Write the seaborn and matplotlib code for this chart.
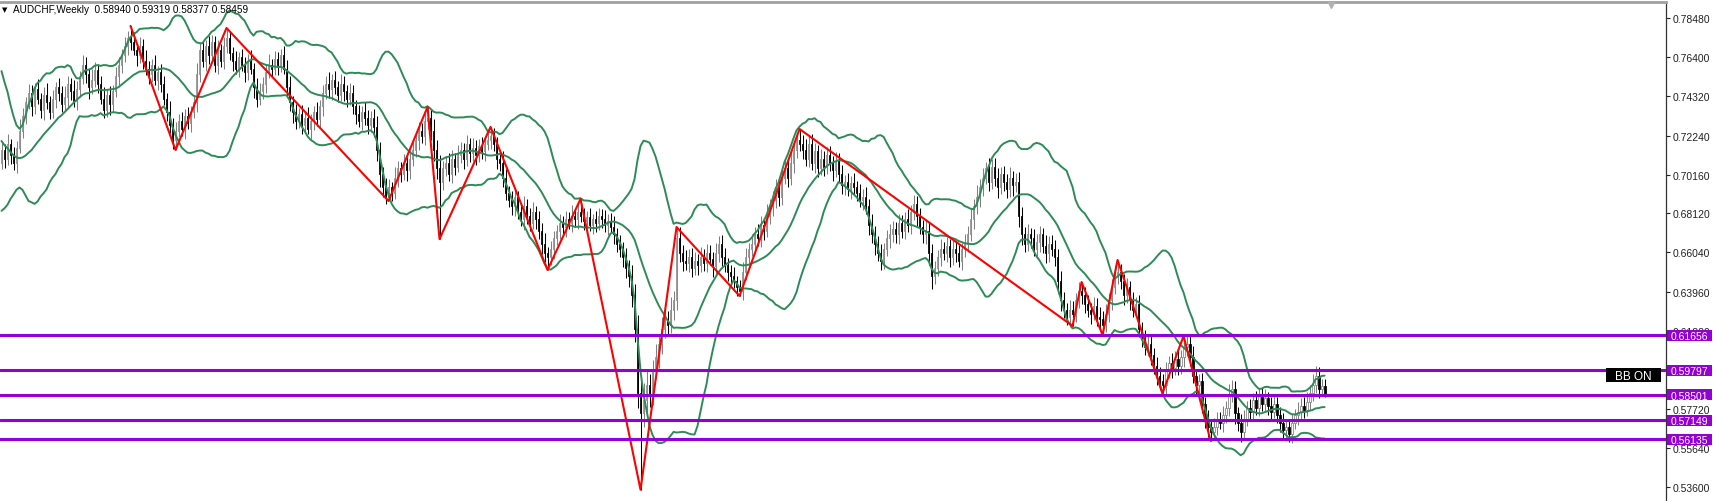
import numpy as np
import pandas as pd
import matplotlib
matplotlib.use("Agg")
import matplotlib.pyplot as plt
import seaborn as sns
from matplotlib import transforms
from matplotlib.patches import Rectangle

# ---------------- data (prices in pips = price * 10000) ----------------
symbol = "AUDCHF,Weekly"

# closes of the 19 weeks before the first visible bar (only feed the bands)
warmup_close = [7550, 7500, 7520, 7440, 7380, 7320, 7260, 7200, 7150, 7100,
                7050, 7000, 6980, 7020, 7050, 7000, 7060, 7100, 7080]

close_pips = [
    7150, 7100, 7180, 7120, 7080, 7160, 7250, 7330, 7400, 7450,   # 0-9
    7380, 7470, 7420, 7360, 7440, 7400, 7350, 7420, 7480, 7450,   # 10-19
    7390, 7430, 7500, 7460, 7410, 7470, 7530, 7600, 7550, 7480,   # 20-29
    7520, 7570, 7500, 7420, 7360, 7440, 7390, 7460, 7540, 7600,   # 30-39
    7650, 7700, 7740, 7720, 7680, 7650, 7700, 7620, 7580, 7550,   # 40-49
    7600, 7520, 7560, 7500, 7420, 7350, 7280, 7200, 7250, 7300,   # 50-59
    7260, 7330, 7290, 7350, 7400, 7550, 7680, 7620, 7700, 7650,   # 60-69
    7720, 7600, 7680, 7620, 7700, 7740, 7660, 7620, 7580, 7640,   # 70-79
    7600, 7560, 7620, 7580, 7480, 7420, 7460, 7500, 7560, 7600,   # 80-89
    7580, 7630, 7600, 7650, 7580, 7480, 7400, 7350, 7300, 7340,   # 90-99
    7280, 7320, 7260, 7300, 7350, 7310, 7380, 7450, 7500, 7470,   # 100-109
    7520, 7480, 7440, 7500, 7460, 7420, 7450, 7380, 7340, 7300,   # 110-119
    7350, 7320, 7280, 7320, 7270, 7150, 7020, 6950, 6900, 6950,   # 120-129
    6920, 7000, 7050, 7020, 7080, 7040, 7100, 7150, 7200, 7250,   # 130-139
    7220, 7300, 7320, 7250, 7150, 7050, 6980, 7050, 7080, 7020,   # 140-149
    7100, 7060, 7120, 7150, 7100, 7180, 7130, 7160, 7120, 7170,   # 150-159
    7140, 7180, 7200, 7220, 7180, 7100, 7080, 7000, 6920, 6880,   # 160-169
    6850, 6900, 6820, 6780, 6850, 6800, 6760, 6820, 6780, 6720,   # 170-179
    6650, 6600, 6580, 6620, 6680, 6720, 6760, 6740, 6780, 6760,   # 180-189
    6800, 6780, 6820, 6800, 6770, 6790, 6750, 6780, 6760, 6800,   # 190-199
    6780, 6750, 6770, 6740, 6700, 6650, 6620, 6580, 6520, 6480,   # 200-209
    6380, 6200, 5860, 5750, 5820, 5900, 5850, 5980, 6050, 6120,   # 210-219
    6200, 6250, 6220, 6300, 6350, 6680, 6600, 6560, 6550, 6580,   # 220-229
    6520, 6560, 6540, 6580, 6550, 6600, 6570, 6530, 6600, 6650,   # 230-239
    6580, 6540, 6500, 6480, 6450, 6420, 6400, 6500, 6580, 6620,   # 240-249
    6650, 6700, 6680, 6750, 6720, 6800, 6850, 6880, 6950, 6900,   # 250-259
    7000, 7050, 7000, 7080, 7150, 7200, 7180, 7150, 7100, 7180,   # 260-269
    7080, 7140, 7050, 7100, 7060, 7120, 7080, 7040, 7090, 7020,   # 270-279
    6960, 6980, 6940, 6970, 6950, 6920, 6880, 6900, 6850, 6750,   # 280-289
    6700, 6650, 6600, 6560, 6620, 6680, 6700, 6730, 6700, 6760,   # 290-299
    6720, 6780, 6750, 6820, 6860, 6800, 6740, 6700, 6720, 6600,   # 300-309
    6480, 6520, 6580, 6620, 6600, 6640, 6580, 6620, 6600, 6560,   # 310-319
    6620, 6650, 6700, 6780, 6850, 6900, 6950, 7000, 7050, 6980,   # 320-329
    7060, 7000, 6950, 7020, 6980, 6940, 7000, 6960, 6980, 6800,   # 330-339
    6700, 6650, 6700, 6680, 6620, 6660, 6700, 6640, 6600, 6650,   # 340-349
    6620, 6580, 6450, 6350, 6300, 6260, 6300, 6280, 6350, 6400,   # 350-359
    6380, 6330, 6300, 6280, 6320, 6260, 6250, 6220, 6280, 6350,   # 360-369
    6420, 6480, 6500, 6450, 6380, 6420, 6350, 6300, 6330, 6200,   # 370-379
    6150, 6100, 6120, 6060, 6000, 5950, 5920, 5900, 5980, 6020,   # 380-389
    5990, 6040, 6000, 6050, 6100, 6120, 6050, 5950, 5900, 5920,   # 390-399
    5800, 5720, 5680, 5650, 5680, 5720, 5700, 5740, 5780, 5850,   # 400-409
    5880, 5750, 5700, 5650, 5720, 5780, 5760, 5820, 5780, 5850,   # 410-419
    5800, 5830, 5790, 5760, 5800, 5740, 5700, 5660, 5680, 5640,   # 420-429
    5700, 5740, 5760, 5790, 5770, 5810, 5860, 5900, 5950, 5880,   # 430-439
    5894.0, 5845.9,                                               # 440-441
]

upper_wick = [
    40, 30, 55, 25, 45, 35, 60, 40, 30, 50, 45, 35, 55, 30, 40, 65, 35, 45, 30, 50,
    35, 55, 40, 30, 60, 45, 35, 50, 40, 30, 55, 45, 35, 40, 60, 30, 45, 35, 50, 40,
    35, 45, 40, 50, 55, 30, 45, 35, 60, 40, 30, 50, 35, 45, 40, 30, 55, 35, 45, 40,
    50, 35, 45, 30, 40, 60, 35, 45, 30, 55, 40, 35, 50, 30, 45, 50, 40, 35, 55, 30,
    45, 40, 35, 60, 30, 50, 45, 35, 40, 55, 30, 45, 40, 35, 50, 45, 60, 35, 40, 30,
    45, 35, 55, 40, 30, 50, 35, 45, 40, 60, 30, 45, 35, 50, 40, 30, 55, 40, 35, 45,
    30, 50, 40, 35, 45, 60, 40, 35, 50, 45, 30, 55, 40, 35, 45, 30, 50, 40, 35, 45,
    40, 55, 50, 45, 60, 50, 70, 40, 35, 50, 45, 30, 55, 40, 35, 45, 30, 50, 40, 35,
    45, 40, 55, 50, 45, 35, 40, 60, 45, 35, 50, 40, 30, 45, 55, 35, 40, 50, 30, 45,
    40, 55, 35, 45, 40, 30, 50, 35, 45, 40, 55, 30, 45, 50, 40, 35, 50, 30, 45, 40,
    35, 50, 40, 45, 55, 35, 45, 40, 50, 45, 60, 55, 70, 80, 90, 75, 60, 55, 70, 50,
    60, 55, 45, 65, 50, 50, 60, 45, 55, 40, 50, 45, 35, 55, 40, 50, 45, 35, 55, 40,
    45, 50, 35, 40, 45, 30, 40, 55, 45, 35, 50, 40, 55, 45, 35, 60, 40, 50, 45, 55,
    40, 50, 45, 55, 40, 35, 50, 45, 55, 40, 50, 45, 35, 55, 40, 45, 50, 35, 45, 40,
    50, 35, 45, 40, 55, 35, 45, 40, 50, 35, 60, 45, 40, 50, 35, 45, 55, 40, 35, 50,
    45, 40, 55, 35, 50, 45, 40, 35, 60, 45, 50, 40, 35, 55, 40, 45, 35, 50, 40, 45,
    35, 50, 45, 55, 40, 60, 45, 50, 35, 55, 40, 45, 50, 35, 45, 40, 55, 35, 45, 50,
    45, 40, 55, 35, 50, 40, 45, 35, 55, 40, 45, 50, 40, 55, 45, 35, 50, 45, 40, 45,
    50, 40, 50, 35, 45, 40, 55, 45, 50, 40, 45, 55, 50, 45, 40, 50, 35, 45, 40, 50,
    35, 45, 50, 40, 35, 50, 45, 40, 45, 35, 50, 40, 45, 35, 50, 40, 45, 55, 35, 40,
    45, 35, 50, 40, 45, 35, 40, 50, 35, 55, 45, 40, 35, 45, 50, 35, 45, 40, 50, 35,
    40, 50, 35, 45, 40, 35, 45, 50, 35, 40, 45, 35, 50, 40, 45, 55, 40, 60, 50, 45,
    40, 37.9,
]

lower_wick = [
    35, 50, 30, 45, 40, 55, 30, 40, 45, 35, 50, 40, 30, 45, 55, 35, 40, 30, 50, 45,
    40, 30, 55, 45, 35, 50, 40, 30, 45, 60, 35, 40, 50, 30, 45, 35, 55, 40, 30, 45,
    45, 35, 50, 40, 30, 55, 40, 45, 35, 50, 40, 30, 55, 45, 35, 50, 40, 45, 50, 35,
    40, 55, 30, 45, 35, 50, 40, 30, 55, 45, 35, 40, 50, 30, 45, 40, 35, 55, 30, 45,
    35, 50, 40, 30, 55, 45, 35, 40, 50, 30, 45, 35, 55, 40, 30, 50, 45, 60, 40, 35,
    50, 40, 30, 55, 45, 35, 40, 50, 30, 45, 55, 35, 40, 30, 50, 45, 35, 40, 55, 30,
    45, 40, 50, 35, 55, 60, 70, 50, 40, 50, 45, 35, 50, 40, 30, 55, 45, 35, 40, 50,
    35, 45, 40, 50, 60, 55, 50, 45, 40, 35, 50, 45, 30, 40, 55, 35, 45, 40, 50, 35,
    40, 50, 35, 45, 40, 55, 45, 50, 40, 35, 45, 50, 40, 35, 55, 45, 40, 30, 50, 45,
    55, 45, 50, 40, 50, 35, 45, 40, 55, 30, 45, 40, 50, 35, 45, 40, 30, 50, 45, 35,
    45, 40, 55, 35, 50, 45, 40, 55, 50, 60, 65, 70, 80, 90, 70, 60, 65, 55, 50, 60,
    55, 50, 60, 45, 55, 50, 45, 55, 40, 50, 45, 35, 55, 40, 45, 50, 35, 55, 40, 45,
    50, 40, 45, 55, 35, 45, 50, 50, 40, 45, 35, 55, 40, 45, 50, 35, 45, 55, 40, 50,
    45, 35, 50, 40, 55, 45, 40, 50, 35, 45, 40, 55, 45, 35, 50, 40, 45, 55, 35, 40,
    45, 50, 35, 55, 40, 45, 35, 50, 40, 55, 45, 60, 40, 50, 45, 35, 55, 40, 45, 50,
    40, 45, 35, 50, 45, 55, 40, 45, 50, 60, 70, 45, 40, 50, 35, 45, 55, 40, 45, 35,
    50, 40, 45, 35, 50, 40, 55, 45, 35, 50, 40, 45, 55, 35, 50, 45, 40, 55, 35, 60,
    55, 45, 40, 50, 35, 45, 55, 40, 50, 45, 35, 50, 60, 55, 45, 40, 50, 50, 45, 40,
    50, 45, 40, 55, 35, 45, 50, 50, 40, 45, 50, 35, 45, 40, 55, 45, 50, 40, 35, 45,
    50, 40, 45, 55, 40, 50, 45, 50, 45, 40, 50, 35, 45, 40, 55, 45, 50, 40, 45, 35,
    50, 45, 55, 50, 40, 45, 35, 50, 40, 45, 40, 55, 45, 50, 40, 35, 45, 50, 40, 45,
    35, 40, 50, 45, 35, 40, 50, 45, 55, 40, 45, 35, 50, 40, 45, 35, 40, 45, 40, 50,
    35, 8.2,
]

# ZigZag turning points (bar index, price)
zz_bar = [43, 58, 75, 129, 142, 146, 163, 182, 193, 213, 225, 246, 266,
          357, 360, 367, 372, 387, 394, 403]
zz_price = [0.7806, 0.7148, 0.7795, 0.6877, 0.7376, 0.6675, 0.7270, 0.6511,
            0.6888, 0.5345, 0.6739, 0.6373, 0.7259, 0.6214, 0.6447, 0.6166,
            0.6564, 0.5858, 0.6161, 0.5604]

# horizontal levels
level_prices = [0.61656, 0.59797, 0.58501, 0.57149, 0.56135]

# price-scale labels
tick_prices = [0.78480, 0.76400, 0.74320, 0.72240, 0.70160, 0.68120, 0.66040,
               0.63960, 0.61880, 0.59800, 0.57720, 0.55640, 0.53600]

bb_period = 20
bb_dev = 2.0

# ---------------- build OHLC ----------------
n = len(close_pips)
assert len(upper_wick) == n and len(lower_wick) == n, (n, len(upper_wick), len(lower_wick))
closes = np.array(close_pips, dtype=float) / 1e4
opens = np.concatenate([[warmup_close[-1] / 1e4], closes[:-1]])
highs = np.maximum(opens, closes) + np.array(upper_wick, dtype=float) / 1e4
lows = np.minimum(opens, closes) - np.array(lower_wick, dtype=float) / 1e4
for b, p in zip(zz_bar, zz_price):
    if p > closes[b]:
        highs[b] = p
    else:
        lows[b] = p

allc = pd.Series(np.concatenate([np.array(warmup_close) / 1e4, closes]))
mid = allc.rolling(bb_period).mean().to_numpy()[-n:]
sd = allc.rolling(bb_period).std(ddof=0).to_numpy()[-n:]
upper = mid + bb_dev * sd
lower = mid - bb_dev * sd

# ---------------- figure ----------------
sns.set_theme(style="white")
plt.rcParams["font.family"] = ["Liberation Sans", "DejaVu Sans"]

W, H = 1716, 502
fig = plt.figure(figsize=(W / 100, H / 100), dpi=100)
fig.patch.set_facecolor("white")
ax = fig.add_axes([0, 0, 1666 / W, 1 - 3 / H])
ax.set_facecolor("white")

x = np.arange(n)
bull = closes >= opens
bull_col = "#808080"
ax.vlines(x[bull], lows[bull], highs[bull], color=bull_col, linewidth=0.75, zorder=3)
ax.vlines(x[~bull], lows[~bull], highs[~bull], color="black", linewidth=0.75, zorder=3)
ax.bar(x[bull], (closes - opens)[bull], bottom=opens[bull], width=0.62,
       color="white", edgecolor=bull_col, linewidth=0.55, zorder=4)
ax.bar(x[~bull], (opens - closes)[~bull], bottom=closes[~bull], width=0.62,
       color="black", edgecolor="black", linewidth=0.55, zorder=4)

band_color = "#2E8B57"
for series in (upper, mid, lower):
    sns.lineplot(x=x, y=series, color=band_color, linewidth=1.4, ax=ax, zorder=5)

sns.lineplot(x=zz_bar, y=zz_price, color="red", linewidth=1.5, ax=ax, zorder=6)

purple = "#9400D3"
for p in level_prices:
    ax.axhline(p, color=purple, linewidth=2.2, zorder=7)

ax.set_xlim(-0.5, 554.8)
ax.set_ylim(0.52851, 0.79329)

for s in ("left", "bottom"):
    ax.spines[s].set_visible(False)
ax.spines["top"].set_color("#a0a0a0")
ax.spines["top"].set_linewidth(2)
ax.spines["right"].set_color("#333333")
ax.spines["right"].set_linewidth(0.9)

ax.set_xticks([])
ax.yaxis.tick_right()
ax.set_yticks(tick_prices)
ax.set_yticklabels([f"{t:.5f}" for t in tick_prices])
ax.tick_params(axis="y", direction="out", length=3, width=0.8, pad=1.5,
               labelsize=7.5, colors="#222222")
ax.set_xlabel("")
ax.set_ylabel("")

# level labels on the price scale
blend = transforms.blended_transform_factory(fig.transFigure, ax.transData)
box_h = 11 / 1884.6
for p in level_prices:
    r = Rectangle((1667 / W, p - box_h / 2), 45 / W, box_h, transform=blend,
                  facecolor=purple, edgecolor="none", clip_on=False, zorder=10)
    ax.add_patch(r)
    ax.text((1667 + 1712) / 2 / W, p, f"{p:.5f}", transform=blend, ha="center",
            va="center_baseline", color="white", fontsize=7.5, zorder=11, clip_on=False)

# BB ON badge
badge = Rectangle((1606 / W, 1 - 383 / H), 55 / W, 14 / H, transform=fig.transFigure,
                  facecolor="black", edgecolor="none", zorder=10)
fig.add_artist(badge)
fig.text(1633.5 / W, 1 - 376 / H, "BB ON", ha="center", va="center_baseline",
         color="white", fontsize=8.5, zorder=11)

# header
fig.text(2 / W, 1 - 10 / H, "\u25BC", fontsize=5, va="center", color="black",
         family=["DejaVu Sans"])
fig.text(13 / W, 1 - 10 / H,
         f"{symbol}  {opens[-1]:.5f} {highs[-1]:.5f} {lows[-1]:.5f} {closes[-1]:.5f}",
         fontsize=7.2, va="center", color="black")

# chart-shift marker at top
ax.plot([n - 1 + 2], [0.7918], marker="v", markersize=4, color="#b0b0b0",
        clip_on=False, zorder=8)

fig.savefig("out.png", dpi=100, facecolor="white")
